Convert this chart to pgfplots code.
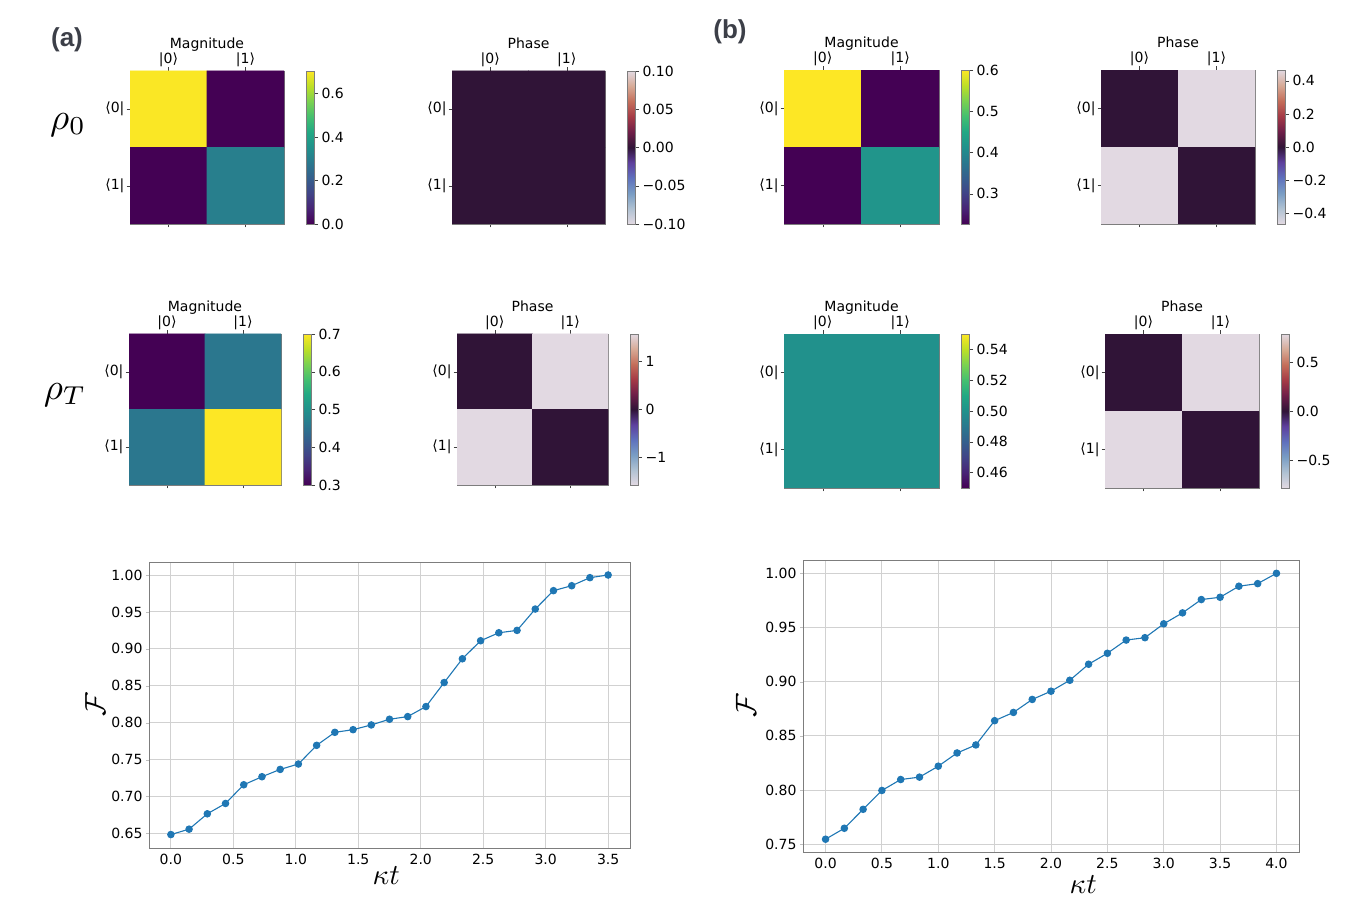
\documentclass[border=0pt]{standalone}
\usepackage{pgfplots}
\pgfplotsset{compat=1.18}
\usepackage{fontspec}
\setmainfont{DejaVu Sans}
\newfontfamily\labfont{Liberation Sans}
\definecolor{tabblue}{RGB}{31,119,180}
\definecolor{spine}{RGB}{125,125,125}
\definecolor{panel}{RGB}{60,63,72}

\tikzset{tl/.style={font=\fontsize{14}{16}\selectfont}}

\pgfplotsset{
  colormap={vir}{rgb255=(68,1,84) rgb255=(72,36,117) rgb255=(65,68,135) rgb255=(53,95,141)
    rgb255=(42,120,142) rgb255=(33,145,140) rgb255=(34,168,132) rgb255=(68,191,112)
    rgb255=(122,209,81) rgb255=(189,223,38) rgb255=(253,231,37)},
  colormap={twi}{rgb255=(226,217,226) rgb255=(176,194,211) rgb255=(121,157,196) rgb255=(95,113,189)
    rgb255=(94,64,158) rgb255=(48,20,55) rgb255=(110,30,72) rgb255=(165,58,70)
    rgb255=(196,110,90) rgb255=(215,170,150) rgb255=(226,217,226)},
  mat/.style={
    scale only axis, anchor=south west,
    xmin=-0.5, xmax=1.5, ymin=-0.5, ymax=1.5, y dir=reverse,
    axis line style={spine}, tick style={black!75},
    tick align=outside, major tick length=3.5pt,
    xtick={0,1}, ytick={0,1},
    xtick pos=both, ytick pos=left, xticklabel pos=upper,
    xticklabels={|0⟩,|1⟩}, yticklabels={⟨0|,⟨1|},
    every tick label/.append style={tl},
    xticklabel style={yshift=-3pt}, yticklabel style={xshift=1.5pt},
    title style={at={(0.5,1)}, anchor=base, yshift=16pt, tl},
    point meta=explicit,
    colorbar,
    colorbar style={at={(parent axis.north east)}, anchor=north west, xshift=14pt, width=8pt,
      axis line style={spine}, tick style={black!75}, tick align=outside, major tick length=3.5pt,
      ytick pos=right, yticklabel pos=right, yticklabel style={tl}},
  },
  cell/.style={matrix plot*, mesh/cols=2, shader=faceted, faceted color=mapped color, line width=0.6pt},
  lp/.style={
    scale only axis, anchor=south west,
    axis line style={spine}, tick style={black!25},
    tick align=outside, major tick length=3pt, xtick pos=left, ytick pos=left,
    xtick style={draw=none},
    grid=major, major grid style={black!18, line width=0.9pt},
    every tick label/.append style={tl},
    /pgf/number format/assume math mode=true,
    xticklabel style={/pgf/number format/.cd, fixed, fixed zerofill, precision=1},
    yticklabel style={/pgf/number format/.cd, fixed, fixed zerofill, precision=2},
    label style={scale=2.9},
  },
  ln/.style={tabblue, line width=1.1pt, mark=*, mark size=3.2pt, mark options={solid, fill=tabblue}},
}

\begin{document}
\begin{tikzpicture}
\path[use as bounding box] (0,0) rectangle (1346pt,918pt);

\node[font=\labfont\bfseries\fontsize{26}{28}\selectfont, text=panel] at (67pt,878pt) {(a)};
\node[font=\labfont\bfseries\fontsize{26}{28}\selectfont, text=panel] at (730pt,886pt) {(b)};
\node[scale=3.7] at (68pt,793pt) {$\rho_0$};
\node[scale=3.7] at (65pt,523pt) {$\rho_T$};

% (a) rho_0 magnitude
\begin{axis}[mat, at={(130pt,694pt)}, width=154pt, height=153pt, colormap name=vir,
  point meta min=0, point meta max=0.703, title=Magnitude,
  colorbar style={ytick={0,0.2,0.4,0.6}, yticklabels={0.0,0.2,0.4,0.6}}]
\addplot[cell] coordinates {(0,0) [0.70] (1,0) [0.0] (0,1) [0.0] (1,1) [0.30]};
\end{axis}

% (a) rho_0 phase
\begin{axis}[mat, at={(452pt,694pt)}, width=153pt, height=153pt, colormap name=twi,
  point meta min=-0.1, point meta max=0.1, title=Phase,
  colorbar style={ytick={-0.1,-0.05,0,0.05,0.1}, yticklabels={−0.10,−0.05,0.00,0.05,0.10}}]
\addplot[cell] coordinates {(0,0) [0] (1,0) [0] (0,1) [0] (1,1) [0]};
\end{axis}

% (a) rho_T magnitude
\begin{axis}[mat, at={(129pt,433pt)}, width=152pt, height=151pt, colormap name=vir,
  point meta min=0.3, point meta max=0.7, title=Magnitude,
  colorbar style={ytick={0.3,0.4,0.5,0.6,0.7}, yticklabels={0.3,0.4,0.5,0.6,0.7}}]
\addplot[cell] coordinates {(0,0) [0.30] (1,0) [0.458] (0,1) [0.458] (1,1) [0.70]};
\end{axis}

% (a) rho_T phase
\begin{axis}[mat, at={(457pt,433pt)}, width=151pt, height=151pt, colormap name=twi,
  point meta min=-1.5708, point meta max=1.5708, title=Phase,
  colorbar style={ytick={-1,0,1}, yticklabels={−1,0,1}}]
\addplot[cell] coordinates {(0,0) [0] (1,0) [1.5708] (0,1) [-1.5708] (1,1) [0]};
\end{axis}

% (b) rho_0 magnitude
\begin{axis}[mat, at={(784pt,694pt)}, width=155pt, height=154pt, colormap name=vir,
  point meta min=0.227, point meta max=0.6, title=Magnitude,
  colorbar style={ytick={0.3,0.4,0.5,0.6}, yticklabels={0.3,0.4,0.5,0.6}}]
\addplot[cell] coordinates {(0,0) [0.60] (1,0) [0.227] (0,1) [0.227] (1,1) [0.42]};
\end{axis}

% (b) rho_0 phase
\begin{axis}[mat, at={(1101pt,694pt)}, width=154pt, height=154pt, colormap name=twi,
  point meta min=-0.466, point meta max=0.466, title=Phase,
  colorbar style={ytick={-0.4,-0.2,0,0.2,0.4}, yticklabels={−0.4,−0.2,0.0,0.2,0.4}}]
\addplot[cell] coordinates {(0,0) [0] (1,0) [0.466] (0,1) [-0.466] (1,1) [0]};
\end{axis}

% (b) rho_T magnitude
\begin{axis}[mat, at={(784pt,430pt)}, width=155pt, height=154pt, colormap name=vir,
  point meta min=0.45, point meta max=0.55, title=Magnitude,
  colorbar style={ytick={0.46,0.48,0.5,0.52,0.54}, yticklabels={0.46,0.48,0.50,0.52,0.54}}]
\addplot[cell] coordinates {(0,0) [0.5] (1,0) [0.5] (0,1) [0.5] (1,1) [0.5]};
\end{axis}

% (b) rho_T phase
\begin{axis}[mat, at={(1105pt,430pt)}, width=154pt, height=154pt, colormap name=twi,
  point meta min=-0.7854, point meta max=0.7854, title=Phase,
  colorbar style={ytick={-0.5,0,0.5}, yticklabels={−0.5,0.0,0.5}}]
\addplot[cell] coordinates {(0,0) [0] (1,0) [0.7854] (0,1) [-0.7854] (1,1) [0]};
\end{axis}

% (a) fidelity
\begin{axis}[lp, at={(149pt,70pt)}, width=481pt, height=286pt,
  xmin=-0.175, xmax=3.675, ymin=0.6304, ymax=1.0176,
  xtick={0,0.5,...,3.5}, ytick={0.65,0.70,...,1.0},
  xlabel={$\kappa t$}, ylabel={$\mathcal{F}$},
  xlabel style={at={(axis description cs:0.493,-0.098)}, anchor=center},
  ylabel style={at={(axis description cs:-0.112,0.5)}, anchor=center}]
\addplot[ln] coordinates {
(0.0000,0.6486) (0.1458,0.6559) (0.2917,0.6767) (0.4375,0.6907) (0.5833,0.7160)
(0.7292,0.7269) (0.8750,0.7368) (1.0208,0.7441) (1.1667,0.7694) (1.3125,0.7870)
(1.4583,0.7906) (1.6042,0.7970) (1.7500,0.8047) (1.8958,0.8083) (2.0417,0.8219)
(2.1875,0.8544) (2.3333,0.8866) (2.4792,0.9110) (2.6250,0.9218) (2.7708,0.9250)
(2.9167,0.9539) (3.0625,0.9788) (3.2083,0.9855) (3.3542,0.9964) (3.5000,1.0000)};
\end{axis}

% (b) fidelity
\begin{axis}[lp, at={(803pt,66pt)}, width=496pt, height=292pt,
  xmin=-0.2, xmax=4.2, ymin=0.7428, ymax=1.0123,
  xtick={0,0.5,...,4.0}, ytick={0.75,0.80,...,1.0},
  xlabel={$\kappa t$}, ylabel={$\mathcal{F}$},
  xlabel style={at={(axis description cs:0.565,-0.113)}, anchor=center},
  ylabel style={at={(axis description cs:-0.115,0.5)}, anchor=center}]
\addplot[ln] coordinates {
(0.0000,0.7546) (0.1667,0.7647) (0.3333,0.7822) (0.5000,0.7996) (0.6667,0.8097)
(0.8333,0.8119) (1.0000,0.8220) (1.1667,0.8342) (1.3333,0.8416) (1.5000,0.8640)
(1.6667,0.8716) (1.8333,0.8836) (2.0000,0.8912) (2.1667,0.9013) (2.3333,0.9161)
(2.5000,0.9262) (2.6667,0.9384) (2.8333,0.9406) (3.0000,0.9534) (3.1667,0.9635)
(3.3333,0.9758) (3.5000,0.9779) (3.6667,0.9881) (3.8333,0.9905) (4.0000,1.0000)};
\end{axis}
\end{tikzpicture}
\end{document}
